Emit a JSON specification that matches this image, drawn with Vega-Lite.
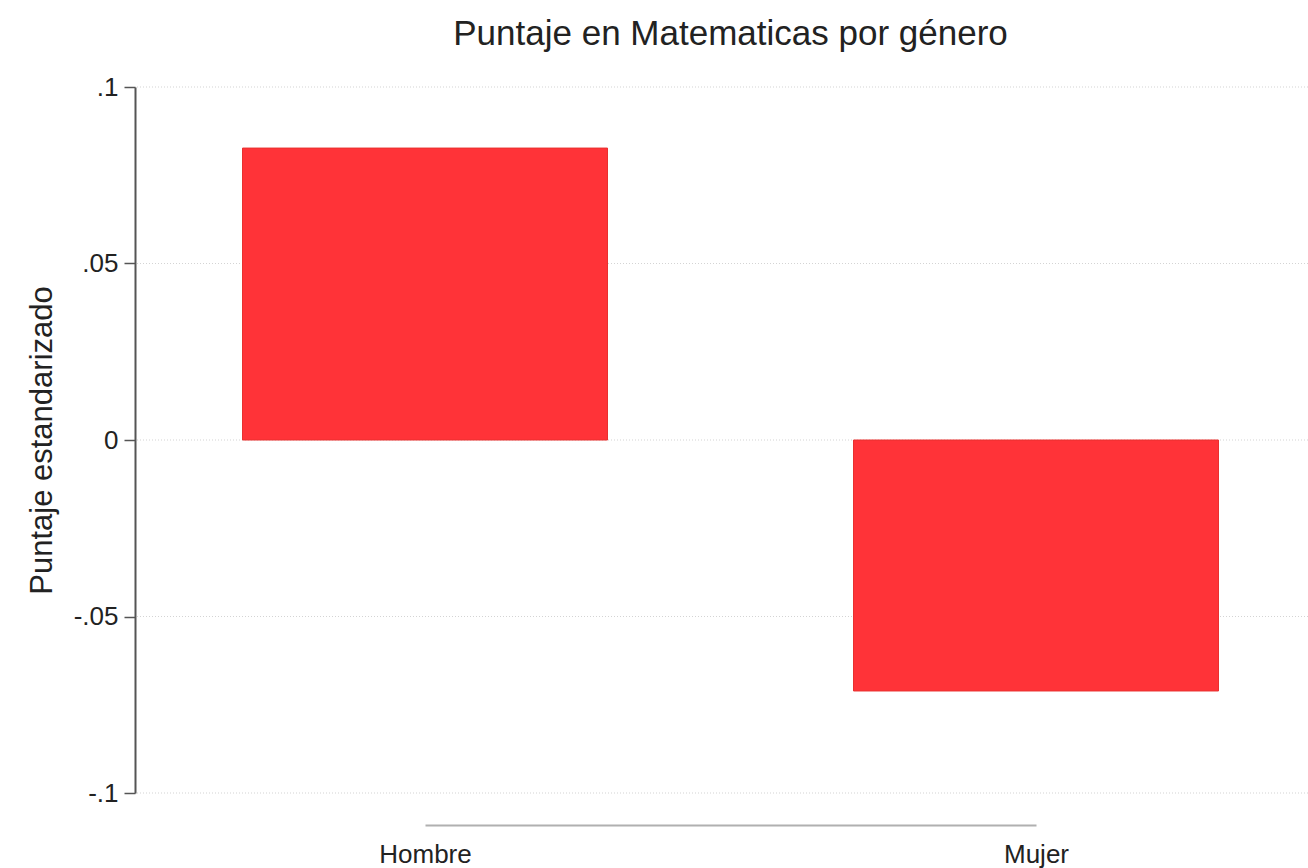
{
  "$schema": "https://vega.github.io/schema/vega-lite/v6.json",
  "autosize": "none",
  "width": 1173,
  "height": 706,
  "padding": {"left": 135, "top": 87, "right": 0, "bottom": 75},
  "background": "white",
  "config": {
    "view": {"stroke": null},
    "font": "Liberation Sans"
  },
  "title": {
    "text": "Puntaje en Matematicas por género",
    "fontSize": 35,
    "fontWeight": "normal",
    "color": "#222222",
    "font": "Liberation Sans",
    "anchor": "middle",
    "dx": 9,
    "offset": 22
  },
  "datasets": {
    "puntajes": [
      {"genero": "Hombre", "puntaje": 0.0827},
      {"genero": "Mujer", "puntaje": -0.0711}
    ],
    "rejilla": [
      {"puntaje": -0.1},
      {"puntaje": -0.05},
      {"puntaje": 0},
      {"puntaje": 0.05},
      {"puntaje": 0.1}
    ]
  },
  "layer": [
    {
      "data": {"name": "rejilla"},
      "mark": {"type": "rule", "color": "#d4d4d4", "strokeDash": [1, 2], "strokeWidth": 1.2},
      "encoding": {
        "y": {"field": "puntaje", "type": "quantitative"}
      }
    },
    {
      "data": {"name": "puntajes"},
      "mark": {"type": "bar", "width": 365, "color": "#ff3338", "stroke": "#e8302f", "strokeWidth": 1},
      "encoding": {
        "x": {
          "field": "genero",
          "type": "nominal",
          "sort": ["Hombre", "Mujer"],
          "scale": {"type": "point", "range": [290, 901], "padding": 0},
          "axis": {
            "title": null,
            "orient": "bottom",
            "offset": 32,
            "ticks": false,
            "grid": false,
            "domainColor": "#b0b0b0",
            "domainWidth": 2,
            "labelAngle": 0,
            "labelFontSize": 26,
            "labelColor": "#222222",
            "labelPadding": 16
          }
        },
        "y": {
          "field": "puntaje",
          "type": "quantitative",
          "scale": {"domain": [-0.1, 0.1], "nice": false, "zero": false},
          "axis": {
            "title": "Puntaje estandarizado",
            "titleFontSize": 31,
            "titleFontWeight": "normal",
            "titleColor": "#222222",
            "titleX": -93,
            "titleY": 353,
            "titleAngle": -90,
            "titleAlign": "center",
            "titleBaseline": "middle",
            "values": [-0.1, -0.05, 0, 0.05, 0.1],
            "labelExpr": "replace(replace(format(datum.value, '~g'), '0.', '.'), '\u2212', '-')",
            "labelFontSize": 26,
            "labelColor": "#222222",
            "labelPadding": 6,
            "tickSize": 11,
            "tickColor": "#555555",
            "tickWidth": 1.5,
            "domainColor": "#555555",
            "domainWidth": 2,
            "grid": false
          }
        }
      }
    }
  ]
}
